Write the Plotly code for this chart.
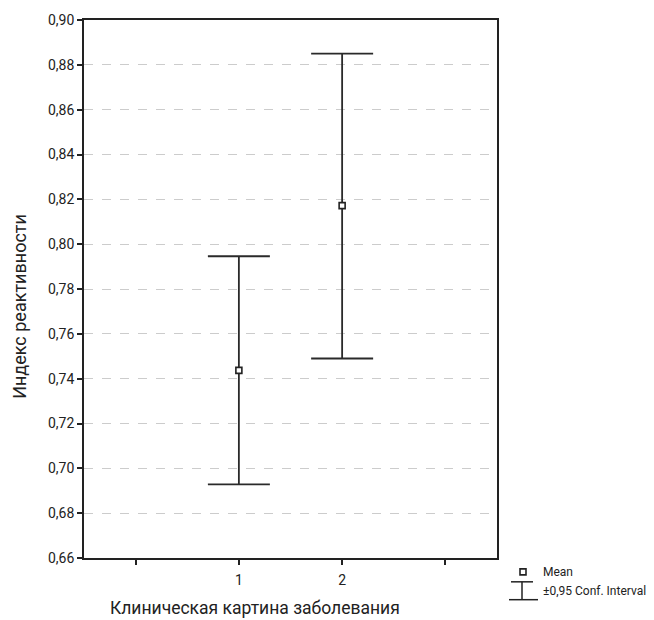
import plotly.graph_objects as go

groups = ["1", "2"]
group_pos = [1, 2]
means = [0.7437, 0.8172]
upper = [0.7946, 0.8850]
lower = [0.6928, 0.7490]
tick_vals = [0, 1, 2, 3]
tick_text = ["", "1", "2", ""]
y_ticks = [0.66, 0.68, 0.70, 0.72, 0.74, 0.76, 0.78, 0.80, 0.82, 0.84, 0.86, 0.88, 0.90]

FONT = "Roboto, Liberation Sans, sans-serif"

err_plus = [u - m for u, m in zip(upper, means)]
err_minus = [m - l for m, l in zip(means, lower)]

fig = go.Figure()
fig.add_trace(go.Scatter(
    x=group_pos, y=means, mode="markers",
    marker=dict(symbol="square", size=6, color="white", line=dict(width=1.6, color="#222222")),
    error_y=dict(type="data", symmetric=False, array=err_plus, arrayminus=err_minus,
                 color="#2a2a2a", thickness=1.8, width=31),
    showlegend=False,
))

fig.update_layout(
    width=654, height=620,
    margin=dict(l=84, r=157, t=16, b=62),
    plot_bgcolor="white", paper_bgcolor="white",
    separators=", ",
    font=dict(family=FONT, size=14, color="#222222"),
    xaxis=dict(range=[-0.5, 3.5], tickmode="array", tickvals=tick_vals, ticktext=tick_text,
               showgrid=False, zeroline=False, showline=True, mirror=True,
               linecolor="#222222", linewidth=1.8, ticks="outside", ticklen=5,
               tickcolor="#222222", tickwidth=1.5, ticklabelstandoff=3),
    yaxis=dict(range=[0.66, 0.90], tickmode="array", tickvals=y_ticks, tickformat=".2f",
               showgrid=True, gridcolor="#cccccc", griddash="dash", gridwidth=1,
               zeroline=False, showline=True, mirror=True,
               linecolor="#222222", linewidth=1.8, ticks="outside", ticklen=5,
               tickcolor="#222222", tickwidth=1.5),
)

# paper pixels -> paper fraction
W, H = 654, 620
L, R, T, B = 84, 157, 16, 62
pw, ph = W - L - R, H - T - B
def px(xp):
    return (xp - L) / pw
def py(yp):
    return 1 - (yp - T) / ph

# axis titles (placed like the reference, off-centre)
fig.add_annotation(xref="paper", yref="paper", x=px(255), y=py(608),
                   text="Клиническая картина заболевания", showarrow=False,
                   xanchor="center", yanchor="middle", font=dict(size=17.5))
fig.add_annotation(xref="paper", yref="paper", x=px(20), y=py(305),
                   text="Индекс реактивности", showarrow=False, textangle=-90,
                   xanchor="center", yanchor="middle", font=dict(size=18))

# custom legend
fig.add_shape(type="rect", xref="paper", yref="paper",
              x0=px(520), x1=px(526), y0=py(575), y1=py(569),
              line=dict(color="#222222", width=1.6), fillcolor="white")
fig.add_shape(type="line", xref="paper", yref="paper",
              x0=px(511), x1=px(533), y0=py(582), y1=py(582),
              line=dict(color="#222222", width=1.5))
fig.add_shape(type="line", xref="paper", yref="paper",
              x0=px(522), x1=px(522), y0=py(582), y1=py(600),
              line=dict(color="#222222", width=1.5))
fig.add_shape(type="line", xref="paper", yref="paper",
              x0=px(509), x1=px(538), y0=py(600), y1=py(600),
              line=dict(color="#222222", width=1.5))
fig.add_annotation(xref="paper", yref="paper", x=px(541), y=py(572), text="Mean",
                   showarrow=False, xanchor="left", yanchor="middle", font=dict(size=12))
fig.add_annotation(xref="paper", yref="paper", x=px(541), y=py(591), text="±0,95 Conf. Interval",
                   showarrow=False, xanchor="left", yanchor="middle", font=dict(size=12))

fig.write_html("out.html", config={"displayModeBar": False},
               post_script="document.body.style.margin='0';")
